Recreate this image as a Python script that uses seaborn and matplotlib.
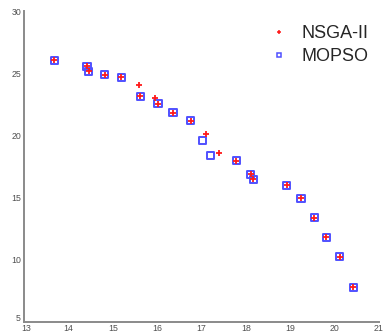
import matplotlib
matplotlib.use("Agg")
import matplotlib.pyplot as plt
import matplotlib.transforms as mtransforms
import seaborn as sns
from matplotlib.lines import Line2D

# Pareto fronts found by the two optimizers
nsga_x = [13.68, 14.42, 14.46, 14.82, 15.19, 15.59, 15.62, 15.95, 16.02, 16.36, 16.76,
          17.11, 17.39, 17.78, 18.11, 18.17, 18.92, 19.24, 19.54, 19.81, 20.11, 20.42]
nsga_y = [26.03, 25.55, 25.15, 24.90, 24.66, 24.02, 23.13, 23.00, 22.54, 21.81, 21.17,
          20.12, 18.57, 17.96, 16.88, 16.47, 15.99, 14.92, 13.36, 11.78, 10.22, 7.78]

mopso_x = [13.68, 14.42, 14.46, 14.82, 15.19, 15.62, 16.02, 16.36, 16.76, 17.03,
           17.21, 17.78, 18.11, 18.17, 18.92, 19.24, 19.54, 19.81, 20.11, 20.42]
mopso_y = [26.03, 25.55, 25.15, 24.90, 24.66, 23.13, 22.54, 21.81, 21.17, 19.61,
           18.35, 17.96, 16.88, 16.47, 15.99, 14.92, 13.36, 11.78, 10.22, 7.78]

series_labels = ["NSGA-II", "MOPSO"]
x_ticks = [13, 14, 15, 16, 17, 18, 19, 20, 21]
y_ticks = [5, 10, 15, 20, 25, 30]

sns.set_style("white")
plt.rcParams["font.family"] = ["Liberation Sans", "DejaVu Sans"]

red = "#ff1a1a"
blue = "#5050ff"

fig = plt.figure(figsize=(3.84, 3.35), dpi=100)
ax = fig.add_axes([0.0625, 0.0397, 0.9245, 0.927])

sns.scatterplot(x=mopso_x, y=mopso_y, marker="s", s=27, ax=ax,
                facecolor="none", edgecolor=blue, linewidth=1.4)
sns.scatterplot(x=nsga_x, y=nsga_y, marker="+", s=20, ax=ax,
                color=red, linewidth=1.3)

ax.set_xlim(13, 21)
ax.set_ylim(5, 30)
ax.set_xticks(x_ticks)
ax.set_yticks(y_ticks)
ax.tick_params(direction="in", length=3, width=1, colors="#7a7a7a",
               labelsize=6.3, labelcolor="#505050", pad=2)
for side in ("top", "right"):
    ax.spines[side].set_visible(False)
for side in ("left", "bottom"):
    ax.spines[side].set_color("#8a8a8a")
    ax.spines[side].set_linewidth(1.4)

# keep the corner labels ("5" and "13") from running into each other
fig.canvas.draw()
lift = mtransforms.ScaledTranslation(-1 / 100, 4 / 100, fig.dpi_scale_trans)
ax.get_yticklabels()[0].set_transform(ax.get_yticklabels()[0].get_transform() + lift)
nudge = mtransforms.ScaledTranslation(2 / 100, 0, fig.dpi_scale_trans)
ax.get_xticklabels()[0].set_transform(ax.get_xticklabels()[0].get_transform() + nudge)

handles = [
    Line2D([], [], linestyle="none", marker="+", color=red, markersize=3, markeredgewidth=1.1),
    Line2D([], [], linestyle="none", marker="s", markerfacecolor="none",
           markeredgecolor=blue, markersize=3, markeredgewidth=1.1),
]
ax.legend(handles, series_labels, loc="upper right", bbox_to_anchor=(1.0, 0.99),
          frameon=False, fontsize=13, handlelength=0.5, handletextpad=1.0,
          labelspacing=0.35, borderaxespad=0.2)

fig.savefig("out.png", dpi=100)
